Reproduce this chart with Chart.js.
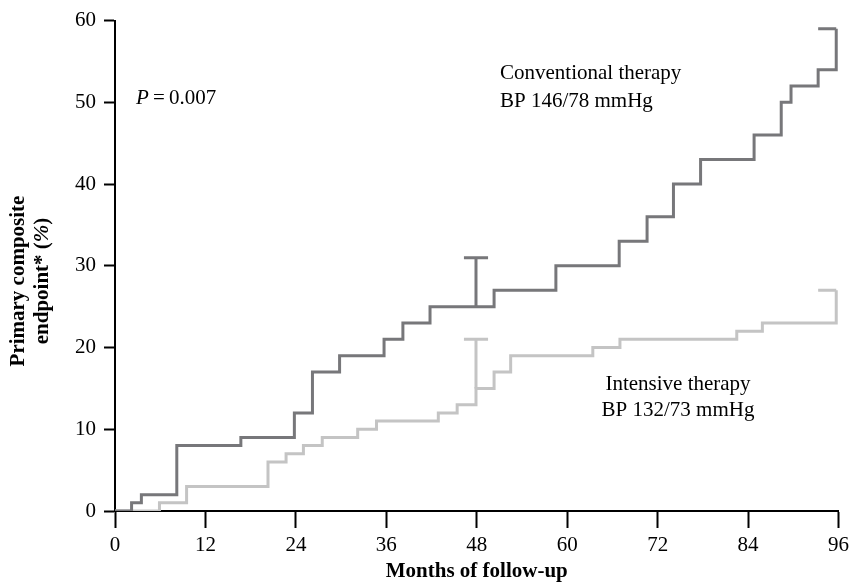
<!DOCTYPE html>
<html>
<head>
<meta charset="utf-8">
<script src="https://cdn.jsdelivr.net/npm/chart.js@4.4.1/dist/chart.umd.min.js"></script>
<style>
  html, body { margin: 0; padding: 0; background: #fff; }
  #wrap { width: 854px; height: 587px; }
</style>
</head>
<body>
<div id="wrap"><canvas id="myChart" width="854" height="587"></canvas></div>
<script>
// cumulative incidence
var convMonths = [0, 2.2, 3.5, 8.2, 16.7, 23.8, 26.2, 29.8, 35.7, 38.2, 41.8, 50.3, 58.5, 66.9, 70.6, 74.1, 77.7, 84.8, 88.4, 89.7, 93.3, 95.7];
var convValues = [0, 1, 2, 8, 9, 12, 17, 19, 21, 23, 25, 27, 30, 33, 36, 40, 43, 46, 50, 52, 54, 59];
var intMonths = [0, 5.9, 9.5, 20.3, 22.7, 25.0, 27.5, 32.2, 34.7, 42.9, 45.4, 47.9, 50.3, 52.5, 63.4, 67.0, 82.5, 85.9, 95.7];
var intValues = [0, 1, 3, 6, 7, 8, 9, 10, 11, 12, 13, 15, 17, 19, 20, 21, 22, 23, 27];

// error bars at 48 months [month, low, high]
var errMonth = 47.9;
var errCap = [46.3, 49.5];
var convErr = [25, 31];
var intErr = [15, 21];
// little end caps at the last step [from, to]
var endCap = [93.3, 95.7];

var monthTicks = [0, 12, 24, 36, 48, 60, 72, 84, 96];
var pctTicks = [0, 10, 20, 30, 40, 50, 60];

var serif = "'Liberation Serif', 'Times New Roman', serif";
var darkGrey = '#77777a';
var lightGrey = '#c4c4c4';

function toPoints(xs, ys) {
    return xs.map(function(x, i) { return {x: x, y: ys[i]}; });
}

// error bar + cap + end cap, split by gaps
function extras(err, lastVal) {
    return [
        {x: errMonth, y: err[0]}, {x: errMonth, y: err[1]}, {x: errMonth, y: null},
        {x: errCap[0], y: err[1]}, {x: errCap[1], y: err[1]}, {x: errCap[1], y: null},
        {x: endCap[0], y: lastVal}, {x: endCap[1], y: lastVal}
    ];
}

var lineCommon = {
    pointRadius: 0,
    borderWidth: 3,
    fill: false,
    spanGaps: false,
    borderCapStyle: 'butt'
};

var annotations = {
    id: 'annotations',
    afterDraw: function(chart) {
        var ctx = chart.ctx;
        ctx.save();
        ctx.fillStyle = '#000';
        ctx.textBaseline = 'alphabetic';

        // P value
        ctx.font = 'italic 21px ' + serif;
        ctx.textAlign = 'left';
        ctx.fillText('P', 136, 104);
        var pw = ctx.measureText('P').width;
        ctx.font = '21px ' + serif;
        ctx.fillText('\u2009=\u20090.007', 136 + pw, 104);

        // group labels
        ctx.fillText('Conventional therapy', 500, 79);
        ctx.fillText('BP 146/78 mmHg', 500, 106.5);
        ctx.textAlign = 'center';
        ctx.fillText('Intensive therapy', 678, 390);
        ctx.fillText('BP 132/73 mmHg', 678, 416);

        // y axis title, two rotated lines
        ctx.translate(0, 281);
        ctx.rotate(-Math.PI / 2);
        ctx.textAlign = 'center';
        ctx.font = 'bold 21px ' + serif;
        ctx.fillText('Primary composite', 0, 24);
        var a = 'endpoint* (', b = '%', c = ')';
        var wa = ctx.measureText(a).width;
        var wc = ctx.measureText(c).width;
        ctx.font = 'bold italic 21px ' + serif;
        var wb = ctx.measureText(b).width;
        var x0 = -(wa + wb + wc) / 2;
        ctx.textAlign = 'left';
        ctx.font = 'bold 21px ' + serif;
        ctx.fillText(a, x0, 47.5);
        ctx.font = 'bold italic 21px ' + serif;
        ctx.fillText(b, x0 + wa, 47.5);
        ctx.font = 'bold 21px ' + serif;
        ctx.fillText(c, x0 + wa + wb, 47.5);
        ctx.restore();
    }
};

var ctx = document.getElementById('myChart');
var chart = new Chart(ctx, {
    type: 'line',
    data: {
        datasets: [
            Object.assign({
                label: 'Conventional therapy',
                data: toPoints(convMonths, convValues),
                borderColor: darkGrey,
                stepped: true
            }, lineCommon),
            Object.assign({
                label: 'Conventional CI',
                data: extras(convErr, convValues[convValues.length - 1]),
                borderColor: darkGrey
            }, lineCommon),
            Object.assign({
                label: 'Intensive therapy',
                data: toPoints(intMonths, intValues),
                borderColor: lightGrey,
                stepped: true
            }, lineCommon),
            Object.assign({
                label: 'Intensive CI',
                data: extras(intErr, intValues[intValues.length - 1]),
                borderColor: lightGrey
            }, lineCommon)
        ]
    },
    options: {
        responsive: false,
        animation: false,
        devicePixelRatio: 1,
        layout: { padding: { top: 15, right: 12, left: 0, bottom: 0 } },
        plugins: {
            legend: { display: false },
            tooltip: { enabled: false },
            title: { display: false }
        },
        scales: {
            x: {
                type: 'linear',
                min: 0,
                max: 96,
                z: 1,
                afterFit: function(scale) { scale.height = 76; },
                afterBuildTicks: function(scale) {
                    scale.ticks = monthTicks.map(function(v) { return {value: v}; });
                },
                border: { display: true, color: '#000', width: 2 },
                grid: {
                    display: true,
                    drawOnChartArea: false,
                    drawTicks: true,
                    tickLength: 17,
                    tickColor: '#000',
                    tickWidth: 2
                },
                ticks: {
                    autoSkip: false,
                    maxRotation: 0,
                    padding: 5,
                    color: '#000',
                    font: { family: serif, size: 21 }
                },
                title: {
                    display: true,
                    text: 'Months of follow-up',
                    color: '#000',
                    font: { family: serif, size: 21, weight: 'bold' },
                    padding: { top: 0, bottom: 3 }
                }
            },
            y: {
                type: 'linear',
                min: 0,
                max: 60,
                z: 1,
                afterFit: function(scale) { scale.width = 115; },
                afterBuildTicks: function(scale) {
                    scale.ticks = pctTicks.map(function(v) { return {value: v}; });
                },
                border: { display: true, color: '#000', width: 2 },
                grid: {
                    display: true,
                    drawOnChartArea: false,
                    drawTicks: true,
                    tickLength: 11,
                    tickColor: '#000',
                    tickWidth: 2
                },
                ticks: {
                    autoSkip: false,
                    padding: 8,
                    color: '#000',
                    font: { family: serif, size: 21 }
                }
            }
        }
    },
    plugins: [annotations]
});
</script>
</body>
</html>
